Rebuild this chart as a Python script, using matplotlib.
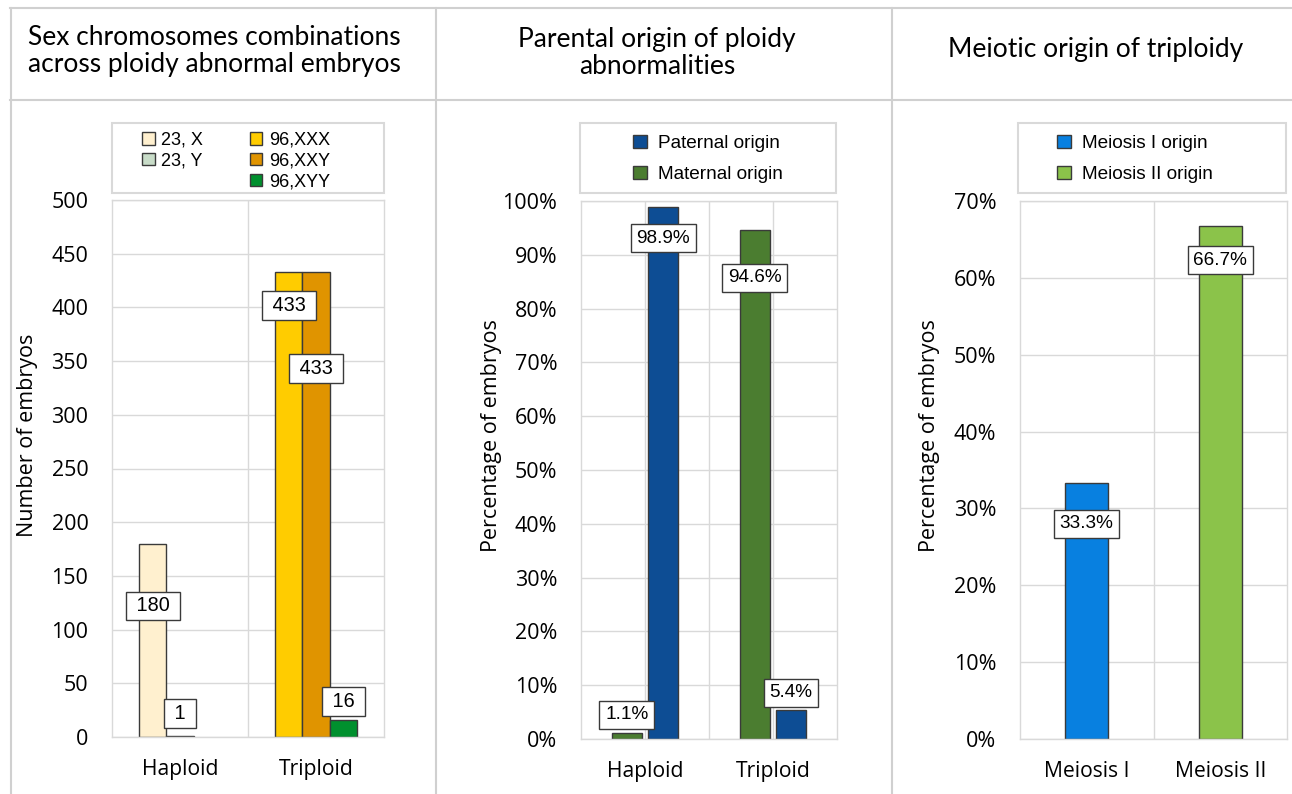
import matplotlib
matplotlib.use("Agg")
import matplotlib.pyplot as plt
from matplotlib.patches import Rectangle
from matplotlib.lines import Line2D

W, H = 1292, 794

# panel 1 data
ploidy_categories = ["Haploid", "Triploid"]
haploid_labels = ["23, X", "23, Y"]
haploid_counts = [180, 1]
triploid_labels = ["96,XXX", "96,XXY", "96,XYY"]
triploid_counts = [433, 433, 16]
haploid_label_y = [122, 22]
triploid_label_y = [402, 343, 33]

# panel 2 data
paternal_pct = [98.9, 5.4]
maternal_pct = [1.1, 94.6]
paternal_label_y = [93.1, 8.6]
maternal_label_y = [4.5, 85.7]

# panel 3 data
meiosis_categories = ["Meiosis I", "Meiosis II"]
meiosis_series = ["Meiosis I origin", "Meiosis II origin"]
meiosis_pct = [33.3, 66.7]
meiosis_label_y = [28.0, 62.3]

haploid_colors = ["#fff0cf", "#c8dcc8"]
triploid_colors = ["#ffcc00", "#e09400", "#00902e"]
paternal_color = "#0d4d94"
maternal_color = "#4b7d30"
meiosis_colors = ["#0880e0", "#8bc34a"]

EDGE = "#3a3a3a"
GRID = "#d9d9d9"
TICKFONT = "Open Sans"
LEGFONT = "Liberation Sans"
TITLEFONT = "Lato"


def fx(x):
    return x / W


def fy(y):
    return 1 - y / H


def px_axes(fig, x0, y0, x1, y1):
    return fig.add_axes([fx(x0), fy(y1), (x1 - x0) / W, (y1 - y0) / H])


def style_axes(ax, ymax, ystep, vlines, pct=False):
    ax.set_ylim(0, ymax)
    ax.set_yticks([i * ystep for i in range(int(round(ymax / ystep)) + 1)])
    if pct:
        ax.set_yticklabels([f"{t:.0f}%" for t in ax.get_yticks()])
    ax.set_xlim(-0.5, 1.5)
    ax.set_xticks([0, 1])
    for s in ax.spines.values():
        s.set_color(GRID)
        s.set_linewidth(1)
    ax.grid(axis="y", color=GRID, linewidth=1)
    for v in vlines:
        ax.axvline(v, color=GRID, linewidth=1, zorder=0.5)
    ax.set_axisbelow(True)
    ax.tick_params(length=0, labelsize=15.5, pad=17)
    ax.tick_params(axis="x", pad=16, labelsize=15.2)
    for lab in ax.get_xticklabels() + ax.get_yticklabels():
        lab.set_fontfamily(TICKFONT)


def set_ylabel(ax, text, x, y):
    ax.set_ylabel(text, fontsize=15.5, family=TICKFONT)
    ax.yaxis.set_label_coords(fx(x), fy(y), transform=ax.figure.transFigure)
    ax.yaxis.label.set_va("center")


def value_label(ax, x, y, text, size=13.7, pad=0.3):
    ax.text(x, y, text, ha="center", va="center", fontsize=size,
            family=LEGFONT, zorder=5,
            bbox=dict(boxstyle=f"square,pad={pad}", fc="white", ec=EDGE, lw=1))


def legend_box(fig, x0, y0, x1, y1):
    fig.patches.append(Rectangle((fx(x0), fy(y1)), (x1 - x0) / W, (y1 - y0) / H,
                                 transform=fig.transFigure, fill=False,
                                 ec=GRID, lw=1.5))


fig = plt.figure(figsize=(W / 100, H / 100), dpi=100)

# panel frame lines
for x in [11, 436, 892]:
    fig.add_artist(Line2D([fx(x), fx(x)], [fy(8), fy(794)], color="#d0d0d0", lw=1.5))
for y in [8, 100]:
    fig.add_artist(Line2D([fx(10), 1], [fy(y), fy(y)], color="#d0d0d0", lw=1.5))

# titles
fig.text(fx(214), fy(51), "Sex chromosomes combinations\nacross ploidy abnormal embryos",
         ha="center", va="center", fontsize=19, family=TITLEFONT, linespacing=1.08)
fig.text(fx(657), fy(53), "Parental origin of ploidy\nabnormalities",
         ha="center", va="center", fontsize=19, family=TITLEFONT, linespacing=1.08)
fig.text(fx(1096), fy(50), "Meiotic origin of triploidy",
         ha="center", va="center", fontsize=19, family=TITLEFONT)

# ---- panel 1
ax1 = px_axes(fig, 112, 200, 384, 737)
style_axes(ax1, 500, 50, [0.5])
ax1.set_xticklabels(ploidy_categories, family=TICKFONT)
w1 = 0.2
handles1 = []
for i, (lab, val, col) in enumerate(zip(haploid_labels, haploid_counts, haploid_colors)):
    x = 0 + (i - 1) * w1
    b = ax1.bar(x, val, w1, color=col, edgecolor=EDGE, lw=1, label=lab, zorder=2)
    handles1.append(b)
    value_label(ax1, x, haploid_label_y[i], f" {val} ", size=14.3, pad=0.25)
for i, (lab, val, col) in enumerate(zip(triploid_labels, triploid_counts, triploid_colors)):
    x = 1 + (i - 1) * w1
    b = ax1.bar(x, val, w1, color=col, edgecolor=EDGE, lw=1, label=lab, zorder=2)
    handles1.append(b)
    value_label(ax1, x, triploid_label_y[i], f" {val} ", size=14.3, pad=0.25)
set_ylabel(ax1, "Number of embryos", 28, 435)

legend_box(fig, 112, 123, 384, 193)
blank = Rectangle((0, 0), 1, 1, fc="none", ec="none")
fig.legend([handles1[0], handles1[1], blank, handles1[2], handles1[3], handles1[4]],
           haploid_labels + [""] + triploid_labels,
           ncol=2, loc="center", bbox_to_anchor=(fx(236), fy(161)),
           frameon=False, prop={"family": LEGFONT, "size": 13},
           handlelength=0.7, handleheight=0.7, handletextpad=0.35,
           labelspacing=0.22, columnspacing=2.6, borderpad=0)

# ---- panel 2
ax2 = px_axes(fig, 581, 201, 837, 739)
style_axes(ax2, 100, 10, [0, 0.5, 1], pct=True)
ax2.set_xticklabels(ploidy_categories, family=TICKFONT)
w2 = 0.23
off2 = 0.142
xs = [0, 1]
bm = ax2.bar([x - off2 for x in xs], maternal_pct, w2, color=maternal_color,
             edgecolor=EDGE, lw=1, zorder=2, label="Maternal origin")
bp = ax2.bar([x + off2 for x in xs], paternal_pct, w2, color=paternal_color,
             edgecolor=EDGE, lw=1, zorder=2, label="Paternal origin")
for x, v, ly in zip(xs, maternal_pct, maternal_label_y):
    value_label(ax2, x - off2, ly, f"{v:.1f}%")
for x, v, ly in zip(xs, paternal_pct, paternal_label_y):
    value_label(ax2, x + off2, ly, f"{v:.1f}%")
set_ylabel(ax2, "Percentage of embryos", 492, 436)

legend_box(fig, 580, 123, 836, 193)
fig.legend([bp, bm], ["Paternal origin", "Maternal origin"], loc="center",
           bbox_to_anchor=(fx(708), fy(159)), frameon=False,
           prop={"family": LEGFONT, "size": 13.7},
           handlelength=0.7, handleheight=0.7, handletextpad=0.6,
           labelspacing=0.75, borderpad=0)

# ---- panel 3
ax3 = px_axes(fig, 1020, 201, 1287, 739)
style_axes(ax3, 70, 10, [0.5], pct=True)
ax3.set_xticklabels(meiosis_categories, family=TICKFONT)
w3 = 0.32
handles3 = []
for i, (lab, val, col) in enumerate(zip(meiosis_series, meiosis_pct, meiosis_colors)):
    b = ax3.bar(i, val, w3, color=col, edgecolor=EDGE, lw=1, zorder=2, label=lab)
    handles3.append(b)
    value_label(ax3, i, meiosis_label_y[i], f"{val:.1f}%")
set_ylabel(ax3, "Percentage of embryos", 930, 436)

legend_box(fig, 1018, 123, 1286, 193)
fig.legend(handles3, meiosis_series, loc="center",
           bbox_to_anchor=(fx(1135), fy(159)), frameon=False,
           prop={"family": LEGFONT, "size": 13.7},
           handlelength=0.7, handleheight=0.7, handletextpad=0.6,
           labelspacing=0.75, borderpad=0)

fig.savefig("out.png", dpi=100)
